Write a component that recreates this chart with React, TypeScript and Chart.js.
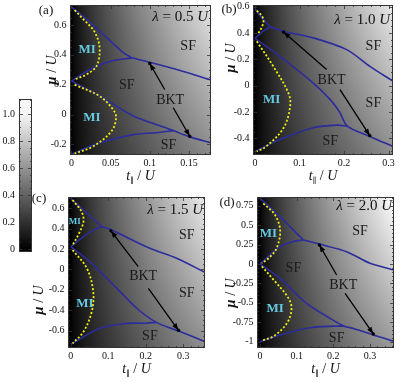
import React, { useEffect, useRef } from 'react';
import { Chart, registerables } from 'chart.js';
Chart.register(...registerables);

const SERIF = '"Liberation Serif", "DejaVu Serif", "Times New Roman", serif';
type Pt = [number, number];

// ---------- Panel (a): lambda = 0.5 U ----------
const A_TOP_LEFT: Pt[] = [[0, 0.72], [0.019, 0.64], [0.045, 0.515], [0.066, 0.415], [0.077, 0.38]];
const A_TOP_RIGHT: Pt[] = [[0.077, 0.38], [0.1, 0.35], [0.142, 0.29], [0.178, 0.232]];
const A_UPPER_BOTTOM: Pt[] = [[0, 0.225], [0.023, 0.3], [0.049, 0.356], [0.077, 0.38]];
const A_LOWER_TOP: Pt[] = [[0, 0.225], [0.036, 0.125], [0.079, -0.01], [0.121, -0.09], [0.13, -0.108], [0.151, -0.15], [0.178, -0.19]];
const A_LOWER_BOTTOM: Pt[] = [[0, -0.265], [0.036, -0.19], [0.079, -0.135], [0.108, -0.122], [0.13, -0.108]];
const A_MI_EDGE_UP: Pt[] = [[0.004, 0.7], [0.015, 0.64], [0.03, 0.55], [0.036, 0.44], [0.032, 0.325], [0.019, 0.268], [0.004, 0.235]];
const A_MI_EDGE_LOW: Pt[] = [[0.004, 0.2], [0.036, 0.123], [0.053, 0.034], [0.057, -0.022], [0.051, -0.112], [0.028, -0.213], [0.004, -0.262]];
const A_ARROW_1: Pt[] = [[0.119, 0.168], [0.1, 0.342]];
const A_ARROW_2: Pt[] = [[0.13, 0.045], [0.151, -0.146]];
const A_SF: Pt[] = [[0.149, 0.455], [0.0705, 0.198], [0.124, -0.205]];
const A_MI: Pt[] = [[0.02, 0.433], [0.026, -0.023]];
const A_BKT: Pt = [0.126, 0.097];
const A_X_TICKS = [0, 0.05, 0.1, 0.15];
const A_X_LABELS = ['0', '0.05', '0.1', '0.15'];
const A_Y_TICKS = [-0.2, 0, 0.2, 0.4, 0.6];
const A_Y_LABELS = ['-0.2', '0', '0.2', '0.4', '0.6'];

// ---------- Panel (b): lambda = 1.0 U ----------
const B_TOP_LEFT: Pt[] = [[0, 0.58], [0.017, 0.51], [0.034, 0.448]];
const B_TOP_RIGHT: Pt[] = [[0.034, 0.448], [0.064, 0.413], [0.131, 0.363], [0.206, 0.274], [0.258, 0.147], [0.31, 0.035]];
const B_UPPER_BOTTOM: Pt[] = [[0, 0.36], [0.017, 0.41], [0.034, 0.448]];
const B_LOWER_TOP: Pt[] = [[0, 0.36], [0.056, 0.223], [0.131, 0.02], [0.169, -0.106], [0.19, -0.2], [0.2075, -0.307], [0.258, -0.386], [0.31, -0.462]];
const B_LOWER_BOTTOM: Pt[] = [[0, -0.5], [0.056, -0.41], [0.131, -0.32], [0.184, -0.3], [0.2075, -0.307]];
const B_MI_EDGE_UP: Pt[] = [[0.004, 0.57], [0.013, 0.54], [0.019, 0.5], [0.016, 0.45], [0.006, 0.39]];
const B_MI_EDGE_LOW: Pt[] = [[0.004, 0.337], [0.041, 0.147], [0.075, -0.056], [0.079, -0.157], [0.064, -0.322], [0.026, -0.46], [0.004, -0.5]];
const B_ARROW_1: Pt[] = [[0.161, 0.122], [0.064, 0.408]];
const B_ARROW_2: Pt[] = [[0.191, -0.03], [0.258, -0.38]];
const B_SF: Pt[] = [[0.266, 0.296], [0.266, -0.134], [0.169, -0.426]];
const B_MI: Pt[] = [[0.0375, -0.109]];
const B_BKT: Pt = [0.172, 0.043];
const B_X_TICKS = [0, 0.1, 0.2, 0.3];
const B_X_LABELS = ['0', '0.1', '0.2', '0.3'];
const B_Y_TICKS = [-0.4, -0.2, 0, 0.2, 0.4, 0.6];
const B_Y_LABELS = ['-0.4', '-0.2', '0', '0.2', '0.4', '0.6'];

// ---------- Panel (c): lambda = 1.5 U ----------
const C_TOP_LEFT: Pt[] = [[0, 0.7], [0.043, 0.553], [0.0826, 0.421]];
const C_TOP_RIGHT: Pt[] = [[0.0826, 0.421], [0.105, 0.395], [0.211, 0.208], [0.282, 0.11], [0.358, -0.028]];
const C_UPPER_BOTTOM: Pt[] = [[0, 0.224], [0.034, 0.323], [0.06, 0.385], [0.0826, 0.421]];
const C_LOWER_TOP: Pt[] = [[0, 0.224], [0.051, 0.077], [0.123, -0.185], [0.176, -0.381], [0.228, -0.52], [0.291, -0.61], [0.358, -0.71]];
const C_LOWER_BOTTOM: Pt[] = [[0, -0.735], [0.078, -0.578], [0.149, -0.53], [0.2, -0.528], [0.228, -0.52]];
const C_MI_EDGE_UP: Pt[] = [[0.005, 0.683], [0.029, 0.568], [0.034, 0.47], [0.02, 0.339], [0.005, 0.241]];
const C_MI_EDGE_LOW: Pt[] = [[0.005, 0.192], [0.043, 0.012], [0.06, -0.218], [0.056, -0.415], [0.034, -0.612], [0.005, -0.726]];
const C_ARROW_1: Pt[] = [[0.18, 0.028], [0.107, 0.38]];
const C_ARROW_2: Pt[] = [[0.207, -0.185], [0.287, -0.598]];
const C_SF: Pt[] = [[0.309, 0.339], [0.309, -0.234], [0.211, -0.661]];
const C_MI: Pt[] = [[0.011, 0.47], [0.038, -0.332]];
const C_BKT: Pt = [0.193, -0.071];
const C_X_TICKS = [0, 0.1, 0.2, 0.3];
const C_X_LABELS = ['0', '0.1', '0.2', '0.3'];
const C_Y_TICKS = [-0.6, -0.4, -0.2, 0, 0.2, 0.4, 0.6];
const C_Y_LABELS = ['-0.6', '-0.4', '-0.2', '0', '0.2', '0.4', '0.6'];

// ---------- Panel (d): lambda = 2.0 U ----------
const D_TOP_LEFT: Pt[] = [[0, 0.846], [0.0545, 0.609], [0.118, 0.309]];
const D_TOP_RIGHT: Pt[] = [[0.118, 0.309], [0.164, 0.253], [0.236, 0.158], [0.3, 0.009], [0.365, -0.077]];
const D_UPPER_BOTTOM: Pt[] = [[0, 0], [0.03, 0.13], [0.0545, 0.223], [0.09, 0.29], [0.118, 0.309]];
const D_LOWER_TOP: Pt[] = [[0, 0], [0.0545, -0.184], [0.127, -0.506], [0.191, -0.699], [0.23, -0.8], [0.255, -0.83], [0.309, -0.913], [0.368, -1.0]];
const D_LOWER_BOTTOM: Pt[] = [[0, -1.0], [0.0545, -0.914], [0.136, -0.82], [0.2, -0.8], [0.23, -0.8]];
const D_MI_EDGE_UP: Pt[] = [[0.009, 0.78], [0.041, 0.63], [0.055, 0.43], [0.045, 0.2], [0.025, 0.08], [0.005, 0.01]];
const D_MI_EDGE_LOW: Pt[] = [[0.005, -0.03], [0.04, -0.22], [0.075, -0.42], [0.086, -0.56], [0.075, -0.75], [0.04, -0.92], [0.005, -0.99]];
const D_ARROW_1: Pt[] = [[0.209, -0.142], [0.162, 0.245]];
const D_ARROW_2: Pt[] = [[0.232, -0.377], [0.309, -0.9]];
const D_SF: Pt[] = [[0.273, 0.416], [0.091, -0.055], [0.209, -0.956]];
const D_MI: Pt[] = [[0.023, 0.395], [0.041, -0.57]];
const D_BKT: Pt = [0.227, -0.27];
const D_X_TICKS = [0, 0.1, 0.2, 0.3];
const D_X_LABELS = ['0', '0.1', '0.2', '0.3'];
const D_Y_TICKS = [-1, -0.75, -0.5, -0.25, 0, 0.25, 0.5, 0.75];
const D_Y_LABELS = ['-1', '-0.75', '-0.5', '-0.25', '0', '0.25', '0.5', '0.75'];

// ---------- Colour bar ----------
const CB_TICKS = [0, 0.2, 0.4, 0.6, 0.8, 1.0];
const CB_LABELS = ['0', '0.2', '0.4', '0.6', '0.8', '1.0'];

type Box = { l: number; t: number; r: number; b: number };
type Panel = {
  letter: string; lambda: string;
  blue: Pt[][]; yellow: Pt[][]; arrows: Pt[][];
  sf: Pt[]; mi: Pt[]; miSize: number[]; bkt: Pt;
  xTicks: number[]; xLabels: string[]; yTicks: number[]; yLabels: string[];
  xMinor: number; yMinor: number;
  xRange: [number, number]; yRange: [number, number];
  shade: number; area: Box; canvas: Box;
  letterAt: [number, number]; yTitleAt: [number, number]; lambdaAt: [number, number];
};

const PANELS: Panel[] = [
  {
    letter: '(a)', lambda: '0.5',
    blue: [A_TOP_LEFT, A_TOP_RIGHT, A_UPPER_BOTTOM, A_LOWER_TOP, A_LOWER_BOTTOM],
    yellow: [A_MI_EDGE_UP, A_MI_EDGE_LOW], arrows: [A_ARROW_1, A_ARROW_2],
    sf: A_SF, mi: A_MI, miSize: [13, 13], bkt: A_BKT,
    xTicks: A_X_TICKS, xLabels: A_X_LABELS, yTicks: A_Y_TICKS, yLabels: A_Y_LABELS,
    xMinor: 0.01, yMinor: 0.05, xRange: [-0.0019, 0.1782], yRange: [-0.2716, 0.7344],
    shade: 0.9, area: { l: 70, t: 5, r: 211, b: 155 }, canvas: { l: 36, t: -7, r: 215, b: 187 },
    letterAt: [46, 11], yTitleAt: [51, 70], lambdaAt: [208, 16],
  },
  {
    letter: '(b)', lambda: '1.0',
    blue: [B_TOP_LEFT, B_TOP_RIGHT, B_UPPER_BOTTOM, B_LOWER_TOP, B_LOWER_BOTTOM],
    yellow: [B_MI_EDGE_UP, B_MI_EDGE_LOW], arrows: [B_ARROW_1, B_ARROW_2],
    sf: B_SF, mi: B_MI, miSize: [13], bkt: B_BKT,
    xTicks: B_X_TICKS, xLabels: B_X_LABELS, yTicks: B_Y_TICKS, yLabels: B_Y_LABELS,
    xMinor: 0.02, yMinor: 0.05, xRange: [-0.0045, 0.3101], yRange: [-0.5269, 0.6129],
    shade: 0.92, area: { l: 253, t: 5, r: 393, b: 155 }, canvas: { l: 216, t: -7, r: 407, b: 187 },
    letterAt: [229, 10], yTitleAt: [230, 58], lambdaAt: [390, 19],
  },
  {
    letter: '(c)', lambda: '1.5',
    blue: [C_TOP_LEFT, C_TOP_RIGHT, C_UPPER_BOTTOM, C_LOWER_TOP, C_LOWER_BOTTOM],
    yellow: [C_MI_EDGE_UP, C_MI_EDGE_LOW], arrows: [C_ARROW_1, C_ARROW_2],
    sf: C_SF, mi: C_MI, miSize: [9, 13], bkt: C_BKT,
    xTicks: C_X_TICKS, xLabels: C_X_LABELS, yTicks: C_Y_TICKS, yLabels: C_Y_LABELS,
    xMinor: 0.02, yMinor: 0.05, xRange: [-0.0072, 0.3578], yRange: [-0.7719, 0.7129],
    shade: 0.92, area: { l: 68, t: 197, r: 205, b: 348 }, canvas: { l: 26, t: 185, r: 209, b: 380 },
    letterAt: [39, 199], yTitleAt: [38, 300], lambdaAt: [203, 209],
  },
  {
    letter: '(d)', lambda: '2.0',
    blue: [D_TOP_LEFT, D_TOP_RIGHT, D_UPPER_BOTTOM, D_LOWER_TOP, D_LOWER_BOTTOM],
    yellow: [D_MI_EDGE_UP, D_MI_EDGE_LOW], arrows: [D_ARROW_1, D_ARROW_2],
    sf: D_SF, mi: D_MI, miSize: [13, 13], bkt: D_BKT,
    xTicks: D_X_TICKS, xLabels: D_X_LABELS, yTicks: D_Y_TICKS, yLabels: D_Y_LABELS,
    xMinor: 0.02, yMinor: 0.05, xRange: [-0.0082, 0.3654], yRange: [-1.0811, 0.8623],
    shade: 1.0, area: { l: 257, t: 197, r: 394, b: 348 }, canvas: { l: 216, t: 185, r: 407, b: 380 },
    letterAt: [227, 203], yTitleAt: [230, 293], lambdaAt: [392, 205],
  },
];

type Part = { text: string; size: number; style?: string; dy?: number };
const fnt = (size: number, style = '') => `${style} ${size}px ${SERIF}`.trim();

function rich(ctx: CanvasRenderingContext2D, parts: Part[], x: number, y: number, align: 'left' | 'center' | 'right') {
  ctx.save();
  ctx.textAlign = 'left';
  ctx.textBaseline = 'alphabetic';
  const widths = parts.map((p) => { ctx.font = fnt(p.size, p.style); return ctx.measureText(p.text).width; });
  const total = widths.reduce((s, w) => s + w, 0);
  let cx = align === 'left' ? x : align === 'center' ? x - total / 2 : x - total;
  parts.forEach((p, i) => { ctx.font = fnt(p.size, p.style); ctx.fillText(p.text, cx, y + (p.dy || 0)); cx += widths[i]; });
  ctx.restore();
}

function gridVals(min: number, max: number, step: number) {
  const out: number[] = [];
  for (let k = Math.ceil(min / step - 1e-9); k * step <= max + 1e-9; k++) out.push(k * step);
  return out;
}

function drawFrameTicks(ctx: CanvasRenderingContext2D, chart: any, xTicks: number[] | null, yTicks: number[], xMinor: number, yMinor: number) {
  const a = chart.chartArea; const xs = chart.scales.x; const ys = chart.scales.y;
  ctx.save();
  ctx.strokeStyle = '#333'; ctx.lineWidth = 1;
  ctx.strokeRect(a.left + 0.5, a.top + 0.5, a.right - a.left - 1, a.bottom - a.top - 1);
  ctx.lineWidth = 0.8;
  const tick = (x1: number, y1: number, x2: number, y2: number) => { ctx.beginPath(); ctx.moveTo(x1, y1); ctx.lineTo(x2, y2); ctx.stroke(); };
  if (xTicks) {
    gridVals(xs.min, xs.max, xMinor).forEach((v) => {
      const major = xTicks.some((t) => Math.abs(t - v) < 1e-6);
      const len = major ? 4 : 2; const px = Math.round(xs.getPixelForValue(v)) + 0.5;
      tick(px, a.bottom, px, a.bottom - len); tick(px, a.top, px, a.top + len);
    });
  }
  gridVals(ys.min, ys.max, yMinor).forEach((v) => {
    const major = yTicks.some((t) => Math.abs(t - v) < 1e-6);
    const len = major ? 4 : 2; const py = Math.round(ys.getPixelForValue(v)) + 0.5;
    tick(a.left, py, a.left + len, py); tick(a.right, py, a.right - len, py);
  });
  ctx.restore();
}

function panelPlugin(p: Panel) {
  const ox = p.canvas.l, oy = p.canvas.t;
  return {
    id: 'panelDecor',
    beforeDatasetsDraw(chart: any) {
      const { ctx, chartArea: a, scales: { x, y } } = chart;
      const w = Math.round(a.right - a.left); const h = Math.round(a.bottom - a.top);
      const off = document.createElement('canvas'); off.width = w; off.height = h;
      const octx = off.getContext('2d')!; const img = octx.createImageData(w, h);
      for (let j = 0; j < h; j++) {
        const mu = y.getValueForPixel(a.top + j + 0.5);
        const yn = (mu - y.min) / (y.max - y.min);
        for (let i = 0; i < w; i++) {
          const t = x.getValueForPixel(a.left + i + 0.5);
          let v = t <= 0 ? 0 : p.shade * Math.pow(Math.min(t / x.max, 1), 0.75) * (0.6 + 0.4 * yn);
          v = Math.max(0, Math.min(1, v));
          const c = Math.round(v * 255); const k = (j * w + i) * 4;
          img.data[k] = c; img.data[k + 1] = c; img.data[k + 2] = c; img.data[k + 3] = 255;
        }
      }
      octx.putImageData(img, 0, 0);
      ctx.drawImage(off, a.left, a.top);
    },
    afterDatasetsDraw(chart: any) {
      const { ctx, scales: { x, y } } = chart;
      const px = (pt: Pt) => [x.getPixelForValue(pt[0]), y.getPixelForValue(pt[1])];
      ctx.save();
      // arrow heads and BKT dots
      p.arrows.forEach((ar) => {
        const [x1, y1] = px(ar[0]); const [x2, y2] = px(ar[1]);
        const ang = Math.atan2(y2 - y1, x2 - x1);
        const L = 7, W = 2.6;
        const bx = x2 - L * Math.cos(ang), by = y2 - L * Math.sin(ang);
        ctx.fillStyle = '#000';
        ctx.beginPath();
        ctx.moveTo(x2, y2);
        ctx.lineTo(bx - W * Math.sin(ang), by + W * Math.cos(ang));
        ctx.lineTo(bx + W * Math.sin(ang), by - W * Math.cos(ang));
        ctx.closePath(); ctx.fill();
        ctx.beginPath(); ctx.arc(x2, y2, 1.7, 0, Math.PI * 2); ctx.fill();
      });
      // labels
      ctx.textAlign = 'center'; ctx.textBaseline = 'middle';
      ctx.fillStyle = '#1a1a1a'; ctx.font = fnt(14);
      p.sf.forEach((pt) => { const [a1, b1] = px(pt); ctx.fillText('SF', a1, b1); });
      const [bx, by] = px(p.bkt); ctx.fillText('BKT', bx, by);
      p.mi.forEach((pt, i) => {
        const [a1, b1] = px(pt); const s = p.miSize[i];
        ctx.font = fnt(s, 'bold'); ctx.fillStyle = '#66c9e0'; ctx.fillText('MI', a1, b1);
      });
      ctx.restore();
      drawFrameTicks(ctx, chart, p.xTicks, p.yTicks, p.xMinor, p.yMinor);
      // lambda label
      ctx.save(); ctx.fillStyle = '#111';
      rich(ctx, [
        { text: 'λ', size: 15, style: 'italic' },
        { text: ' = ' + p.lambda + ' ', size: 15 },
        { text: 'U', size: 15, style: 'italic' },
      ], p.lambdaAt[0] - ox, p.lambdaAt[1] - oy + 5, 'right');
      ctx.restore();
    },
    afterDraw(chart: any) {
      const { ctx, chartArea: a } = chart;
      ctx.save(); ctx.fillStyle = '#111';
      // x title
      rich(ctx, [
        { text: 't', size: 14, style: 'italic' },
        { text: '∥', size: 8, dy: 3 },
        { text: ' / ', size: 14 },
        { text: 'U', size: 14, style: 'italic' },
      ], (a.left + a.right) / 2, a.bottom + 25, 'center');
      // y title
      ctx.save();
      ctx.translate(p.yTitleAt[0] - ox, p.yTitleAt[1] - oy);
      ctx.rotate(-Math.PI / 2);
      rich(ctx, [
        { text: 'μ', size: 15, style: 'italic bold' },
        { text: ' / ', size: 14 },
        { text: 'U', size: 14, style: 'italic' },
      ], 0, 5, 'center');
      ctx.restore();
      // panel letter
      ctx.font = fnt(13); ctx.textAlign = 'center'; ctx.textBaseline = 'middle';
      ctx.fillText(p.letter, p.letterAt[0] - ox, p.letterAt[1] - oy);
      ctx.restore();
    },
  };
}

const tickFont = { family: SERIF, size: 10 };

function panelConfig(p: Panel): any {
  const ds = (pts: Pt[]) => pts.map(([x, y]) => ({ x, y }));
  const datasets = [
    ...p.arrows.map((l) => ({ data: ds(l), borderColor: '#000', borderWidth: 1.3, showLine: true, pointRadius: 0, order: 0 })),
    ...p.yellow.map((l) => ({ data: ds(l), borderColor: '#eeee10', borderWidth: 1.8, borderDash: [2, 2], showLine: true, pointRadius: 0, tension: 0.35, order: 1 })),
    ...p.blue.map((l) => ({ data: ds(l), borderColor: '#2c2c9c', borderWidth: 1.6, showLine: true, pointRadius: 0, tension: 0.3, order: 2 })),
  ];
  return {
    type: 'scatter',
    data: { datasets },
    options: {
      responsive: false, animation: false, devicePixelRatio: 1, events: [],
      layout: { padding: { top: p.area.t - p.canvas.t, right: p.canvas.r - p.area.r, left: 0, bottom: 0 } },
      plugins: { legend: { display: false }, tooltip: { enabled: false } },
      scales: {
        x: {
          type: 'linear', min: p.xRange[0], max: p.xRange[1],
          afterBuildTicks: (s: any) => { s.ticks = p.xTicks.map((v) => ({ value: v })); },
          afterFit: (s: any) => { s.height = p.canvas.b - p.area.b; },
          ticks: { callback: (_v: any, i: number) => p.xLabels[i], autoSkip: false, maxRotation: 0, minRotation: 0, padding: 2, font: tickFont, color: '#111' },
          grid: { display: false, drawTicks: false }, border: { display: false },
        },
        y: {
          type: 'linear', min: p.yRange[0], max: p.yRange[1],
          afterBuildTicks: (s: any) => { s.ticks = p.yTicks.map((v) => ({ value: v })); },
          afterFit: (s: any) => { s.width = p.area.l - p.canvas.l; },
          ticks: { callback: (_v: any, i: number) => p.yLabels[i], autoSkip: false, padding: 3.5, font: tickFont, color: '#111' },
          grid: { display: false, drawTicks: false }, border: { display: false },
        },
      },
    },
    plugins: [panelPlugin(p)],
  };
}

const CB_AREA: Box = { l: 19, t: 99, r: 32, b: 252 };
const CB_CANVAS: Box = { l: 0, t: 87, r: 36, b: 264 };

function colorbarConfig(): any {
  return {
    type: 'scatter',
    data: { datasets: [{ data: [] }] },
    options: {
      responsive: false, animation: false, devicePixelRatio: 1, events: [],
      layout: { padding: { top: CB_AREA.t - CB_CANVAS.t, right: CB_CANVAS.r - CB_AREA.r, bottom: CB_CANVAS.b - CB_AREA.b, left: 0 } },
      plugins: { legend: { display: false }, tooltip: { enabled: false } },
      scales: {
        x: { type: 'linear', display: false, min: 0, max: 1 },
        y: {
          type: 'linear', min: -0.0222, max: 1.111,
          afterBuildTicks: (s: any) => { s.ticks = CB_TICKS.map((v) => ({ value: v })); },
          afterFit: (s: any) => { s.width = CB_AREA.l - CB_CANVAS.l; },
          ticks: { callback: (_v: any, i: number) => CB_LABELS[i], autoSkip: false, padding: 4, font: tickFont, color: '#111' },
          grid: { display: false, drawTicks: false }, border: { display: false },
        },
      },
    },
    plugins: [{
      id: 'cbar',
      beforeDatasetsDraw(chart: any) {
        const { ctx, chartArea: a, scales: { y } } = chart;
        const g = ctx.createLinearGradient(0, y.getPixelForValue(0), 0, y.getPixelForValue(1));
        g.addColorStop(0, '#000');
        g.addColorStop(1, '#f6f6f6');
        ctx.save(); ctx.fillStyle = g; ctx.fillRect(a.left, a.top, a.right - a.left, a.bottom - a.top); ctx.restore();
      },
      afterDraw(chart: any) {
        drawFrameTicks(chart.ctx, chart, null, CB_TICKS, 0.1, 0.05);
      },
    }],
  };
}

export default function App() {
  const refs = useRef<(HTMLCanvasElement | null)[]>([]);
  const cbRef = useRef<HTMLCanvasElement | null>(null);
  useEffect(() => {
    const charts: Chart[] = [];
    PANELS.forEach((p, i) => { const c = refs.current[i]; if (c) charts.push(new Chart(c, panelConfig(p))); });
    if (cbRef.current) charts.push(new Chart(cbRef.current, colorbarConfig()));
    return () => charts.forEach((c) => c.destroy());
  }, []);
  const cstyle = (b: Box): React.CSSProperties => ({ position: 'absolute', left: b.l, top: b.t, width: b.r - b.l, height: b.b - b.t });
  return (
    <div style={{ position: 'fixed', left: 0, top: 0, width: 409, height: 382, background: '#fff', overflow: 'hidden' }}>
      {PANELS.map((p, i) => (
        <canvas key={p.letter} ref={(el) => { refs.current[i] = el; }} width={p.canvas.r - p.canvas.l} height={p.canvas.b - p.canvas.t} style={cstyle(p.canvas)} />
      ))}
      <canvas ref={cbRef} width={CB_CANVAS.r - CB_CANVAS.l} height={CB_CANVAS.b - CB_CANVAS.t} style={cstyle(CB_CANVAS)} />
    </div>
  );
}
